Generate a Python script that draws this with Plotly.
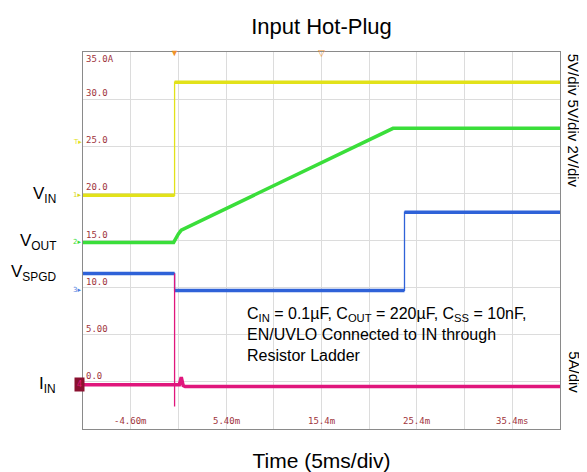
import plotly.graph_objects as go

# Scope capture: input hot-plug, 5ms/div
# values are in screen units of the left scale (-5 .. 35)

t_vin = [-9.6, 0.0, 0.0, 40.4]
v_vin = [19.8, 19.8, 31.8, 31.8]

t_vout = [-9.6, -0.1, 0.4, 0.7, 22.9, 40.4]
v_vout = [14.8, 14.8, 15.7, 16.1, 26.9, 26.9]

t_spgd = [-9.6, 0.0, 0.0, 24.1, 24.1, 40.4]
v_spgd = [11.5, 11.5, 9.7, 9.7, 18.0, 18.0]

t_iin = [-9.6, 0.0, 0.0, 0.0, 0.0, 0.5, 0.7, 0.9, 1.1, 40.4]
v_iin = [-0.3, -0.3, 11.5, -2.6, -0.3, -0.3, 0.5, -0.4, -0.5, -0.5]

x_tick_vals = [-4.6, 5.4, 15.4, 25.4, 35.4]
x_tick_text = ['-4.60m', '5.40m', '15.4m', '25.4m', '35.4ms']
y_tick_vals = [35, 30, 25, 20, 15, 10, 5, 0]
y_tick_text = ['35.0A', '30.0', '25.0', '20.0', '15.0', '10.0', '5.00', '0.0']

channels = [
    ('V<sub>IN</sub>', t_vin, v_vin, '#e2e21a', 19.8),
    ('V<sub>OUT</sub>', t_vout, v_vout, '#3ade3a', 14.8),
    ('V<sub>SPGD</sub>', t_spgd, v_spgd, '#2f62d8', 11.5),
    ('I<sub>IN</sub>', t_iin, v_iin, '#e0167c', -0.3),
]

label_red = '#a0343c'
fig = go.Figure()

for name, t, v, color, lvl in channels:
    # thin line for the whole path (fast edges look thin on the scope)
    fig.add_trace(go.Scatter(x=t, y=v, mode='lines',
                             line=dict(color=color, width=1.3),
                             showlegend=False, hoverinfo='skip'))
    # thick line for the settled parts, broken at the vertical steps
    xs, ys = [], []
    for i in range(len(t)):
        if i > 0 and t[i] == t[i - 1]:
            xs.append(None)
            ys.append(None)
        xs.append(t[i])
        ys.append(v[i])
    fig.add_trace(go.Scatter(x=xs, y=ys, mode='lines',
                             line=dict(color=color, width=3.5),
                             showlegend=False, hoverinfo='skip'))
    fig.add_annotation(x=-0.052, xref='paper', y=lvl, yref='y', text=name,
                       showarrow=False, xanchor='right', yanchor='middle',
                       font=dict(family='Liberation Sans', size=17, color='black'))

# scale labels drawn inside the screen
for val, txt in zip(y_tick_vals, y_tick_text):
    fig.add_annotation(x=0.002, xref='paper', y=val, yref='y', text=txt,
                       showarrow=False, xanchor='left',
                       yanchor='top' if val == 35 else 'bottom', yshift=0 if val == 35 else -1,
                       font=dict(family='DejaVu Sans Mono', size=9, color=label_red))
for val, txt in zip(x_tick_vals, x_tick_text):
    fig.add_annotation(x=val, xref='x', y=0.002, yref='paper', text=txt,
                       showarrow=False, xanchor='center', yanchor='bottom',
                       font=dict(family='DejaVu Sans Mono', size=9, color=label_red))

# channel ground markers and trigger markers
markers = [('1', '#d8d820', 19.8), ('T', '#e2e21a', 25.5), ('2', '#3ade3a', 14.8), ('3', '#4f7fe0', 9.8)]
for txt, col, lvl in markers:
    fig.add_annotation(x=-0.012, xref='paper', y=lvl, yref='y', text=txt + '▸',
                       showarrow=False, xanchor='center',
                       font=dict(family='DejaVu Sans', size=7, color=col))
fig.add_annotation(x=-0.018, xref='paper', y=-0.3, yref='y', text='4',
                   showarrow=False, bgcolor='#8a1030', borderpad=2,
                   font=dict(family='DejaVu Sans', size=8, color='#e0167c'))
fig.add_annotation(x=0, xref='x', y=1.0, yref='paper', text='▼', showarrow=False,
                   yanchor='middle', font=dict(size=9, color='#f0922a'))
fig.add_annotation(x=15.4, xref='x', y=1.0, yref='paper', text='▽', showarrow=False,
                   yanchor='middle', font=dict(size=9, color='#f0922a'))

fig.add_annotation(x=7.4, xref='x', y=0.335, yref='paper', xanchor='left', yanchor='top',
                   align='left', showarrow=False,
                   text='C<sub>IN</sub> = 0.1µF, C<sub>OUT</sub> = 220µF, C<sub>SS</sub> = 10nF,<br>'
                        'EN/UVLO Connected to IN through<br>Resistor Ladder',
                   font=dict(family='Liberation Sans', size=16, color='black'))

fig.add_annotation(x=1.052, xref='paper', xanchor='right', y=1.0, yref='paper', yanchor='top',
                   text='5V/div 5V/div 2V/div', textangle=90, showarrow=False,
                   font=dict(family='Liberation Sans', size=15, color='black'))
fig.add_annotation(x=1.052, xref='paper', xanchor='right', y=0.15, yref='paper', yanchor='middle',
                   text='5A/div', textangle=90, showarrow=False,
                   font=dict(family='Liberation Sans', size=15, color='black'))

fig.update_layout(
    width=587, height=472,
    margin=dict(l=75, r=35, t=44, b=51),
    paper_bgcolor='white', plot_bgcolor='white',
    title=dict(text='Input Hot-Plug', x=0.534, xanchor='center', y=0.962, yanchor='middle',
               font=dict(family='Liberation Sans', size=22, color='black')),
    xaxis=dict(range=[-9.6, 40.4], dtick=5, tick0=0.4, showticklabels=False,
               showgrid=True, gridcolor='#dcdcdc', zeroline=False,
               showline=True, linecolor='#8a8a8a', mirror=True,
               title=dict(text='Time (5ms/div)', standoff=24,
                          font=dict(family='Liberation Sans', size=21, color='black'))),
    yaxis=dict(range=[-5, 35], dtick=5, showticklabels=False,
               showgrid=True, gridcolor='#dcdcdc', zeroline=False,
               showline=True, linecolor='#8a8a8a', mirror=True),
)

fig.write_html("out.html")
